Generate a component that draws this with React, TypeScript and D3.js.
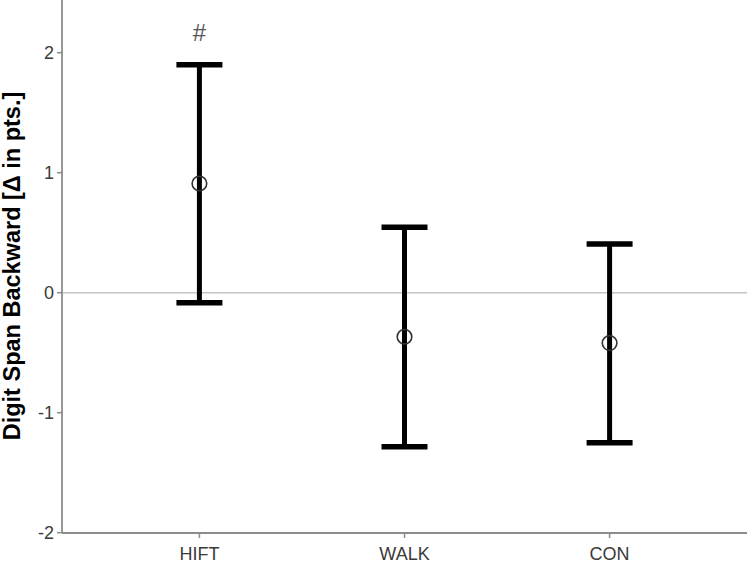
import React from "react";
import * as d3 from "d3";

const categories = ["HIFT", "WALK", "CON"];
const means = [0.91, -0.367, -0.42];
const upper = [1.9, 0.545, 0.406];
const lower = [-0.083, -1.283, -1.25];
const yTicks = [-2, -1, 0, 1, 2];
const annotations = ["#", "", ""];
const yLabel = "Digit Span Backward [Δ in pts.]";

const W = 749;
const H = 565;
const left = 62;
const right = 747;
const bottom = 533;

export default function App() {
  const y = d3.scaleLinear().domain([-2, 2]).range([532.7, 52.7]);
  const x = d3.scalePoint<string>().domain(categories).range([left, right]).padding(0.67);
  const capW = 23;
  const font = "Arial, 'Liberation Sans', sans-serif";
  return (
    <svg width={W} height={H} style={{ position: "absolute", left: 0, top: 0 }} fontFamily={font}>
      <rect width={W} height={H} fill="#fff" />
      {/* zero reference line */}
      <line x1={left} x2={right} y1={y(0)} y2={y(0)} stroke="#c4c4c4" strokeWidth={1.5} />
      {/* y axis */}
      <line x1={left} x2={left} y1={0} y2={bottom} stroke="#8c8c8c" strokeWidth={1.8} />
      {yTicks.map((t) => (
        <g key={t}>
          <line x1={left - 5} x2={left} y1={y(t)} y2={y(t)} stroke="#8c8c8c" strokeWidth={1.5} />
          <text x={left - 8} y={y(t)} dy="0.35em" textAnchor="end" fontSize={18} fill="#3a3a3a">
            {t}
          </text>
        </g>
      ))}
      {/* x axis */}
      <line x1={left} x2={right} y1={bottom} y2={bottom} stroke="#8c8c8c" strokeWidth={1.8} />
      {categories.map((c) => (
        <g key={c}>
          <line x1={x(c)} x2={x(c)} y1={bottom} y2={bottom + 5} stroke="#8c8c8c" strokeWidth={1.5} />
          <text x={x(c)} y={560} textAnchor="middle" fontSize={18} fill="#3a3a3a">
            {c}
          </text>
        </g>
      ))}
      {/* y label */}
      <text
        transform={`translate(20, 266) rotate(-90)`}
        textAnchor="middle"
        fontSize={23.5}
        fontWeight="bold"
        fill="#000"
      >
        {yLabel}
      </text>
      {/* error bars */}
      {categories.map((c, i) => {
        const cx = x(c) as number;
        return (
          <g key={c}>
            <line x1={cx} x2={cx} y1={y(upper[i])} y2={y(lower[i])} stroke="#000" strokeWidth={5} />
            <line x1={cx - capW} x2={cx + capW} y1={y(upper[i])} y2={y(upper[i])} stroke="#000" strokeWidth={5.5} />
            <line x1={cx - capW} x2={cx + capW} y1={y(lower[i])} y2={y(lower[i])} stroke="#000" strokeWidth={5.5} />
            <circle cx={cx} cy={y(means[i])} r={7.3} fill="none" stroke="#333" strokeWidth={1.6} />
            {annotations[i] && (
              <text x={cx} y={y(upper[i]) - 24} textAnchor="middle" fontSize={24} fill="#555">
                {annotations[i]}
              </text>
            )}
          </g>
        );
      })}
    </svg>
  );
}
